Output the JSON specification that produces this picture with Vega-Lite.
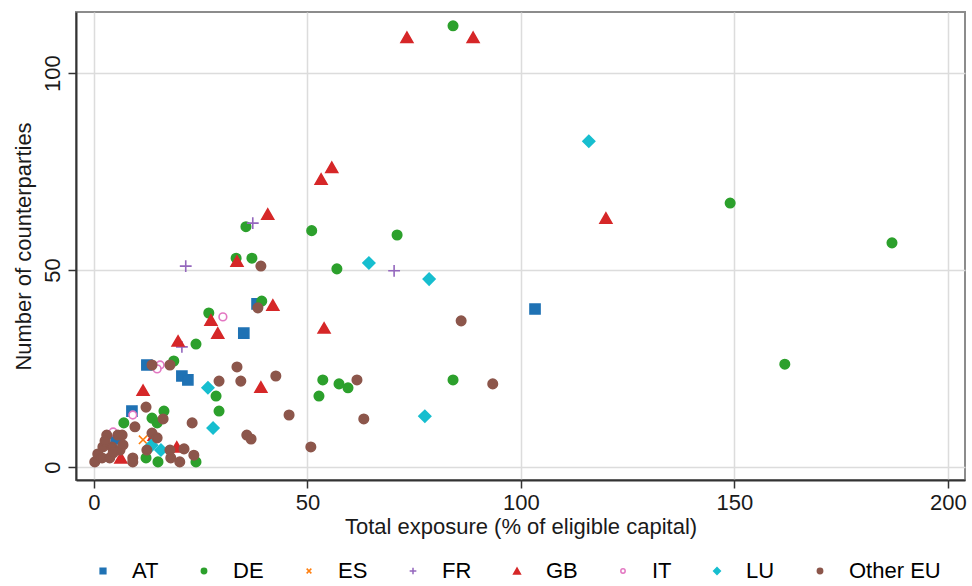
{
  "$schema": "https://vega.github.io/schema/vega-lite/v6.json",
  "autosize": "none",
  "padding": {"left": 76, "top": 12, "right": 7, "bottom": 106},
  "width": 889,
  "height": 468,
  "background": "white",
  "config": {
    "font": "Liberation Sans",
    "view": {"stroke": "#8c8c8c", "strokeWidth": 2},
    "axis": {"labelFont": "Liberation Sans", "titleFont": "Liberation Sans", "labelColor": "#1a1a1a", "titleColor": "#1a1a1a", "titleFontWeight": "normal", "gridColor": "#dcdcdc", "gridWidth": 1.5, "domainColor": "#333333", "domainWidth": 2, "tickColor": "#333333", "tickWidth": 1.5, "tickSize": 8}
  },
  "data": {"values": [
    {"country":"AT","exposure":103.3,"counterparties":40.1},
    {"country":"AT","exposure":35.1,"counterparties":34.0},
    {"country":"AT","exposure":38.2,"counterparties":41.4},
    {"country":"AT","exposure":12.4,"counterparties":25.9},
    {"country":"AT","exposure":20.6,"counterparties":23.1},
    {"country":"AT","exposure":22.0,"counterparties":22.1},
    {"country":"AT","exposure":8.9,"counterparties":14.2},
    {"country":"AT","exposure":5.2,"counterparties":7.1},
    {"country":"DE","exposure":84.1,"counterparties":112},
    {"country":"DE","exposure":51.0,"counterparties":60},
    {"country":"DE","exposure":71.0,"counterparties":58.9},
    {"country":"DE","exposure":149,"counterparties":67},
    {"country":"DE","exposure":186.9,"counterparties":56.9},
    {"country":"DE","exposure":161.8,"counterparties":26.1},
    {"country":"DE","exposure":35.6,"counterparties":61},
    {"country":"DE","exposure":33.3,"counterparties":53},
    {"country":"DE","exposure":37.0,"counterparties":53},
    {"country":"DE","exposure":39.3,"counterparties":42.1},
    {"country":"DE","exposure":26.9,"counterparties":39.1},
    {"country":"DE","exposure":23.9,"counterparties":31.2},
    {"country":"DE","exposure":56.9,"counterparties":50.3},
    {"country":"DE","exposure":53.6,"counterparties":22.1},
    {"country":"DE","exposure":57.4,"counterparties":21.1},
    {"country":"DE","exposure":59.5,"counterparties":20.1},
    {"country":"DE","exposure":52.7,"counterparties":18},
    {"country":"DE","exposure":84.1,"counterparties":22.1},
    {"country":"DE","exposure":28.6,"counterparties":18},
    {"country":"DE","exposure":29.3,"counterparties":14.2},
    {"country":"DE","exposure":23.9,"counterparties":1.3},
    {"country":"DE","exposure":16.4,"counterparties":14.2},
    {"country":"DE","exposure":7.0,"counterparties":11.2},
    {"country":"DE","exposure":13.6,"counterparties":12.4},
    {"country":"DE","exposure":14.8,"counterparties":11.2},
    {"country":"DE","exposure":12.2,"counterparties":2.3},
    {"country":"DE","exposure":15.0,"counterparties":1.3},
    {"country":"DE","exposure":18.7,"counterparties":26.9},
    {"country":"ES","exposure":11.5,"counterparties":6.9},
    {"country":"FR","exposure":37.2,"counterparties":61.9},
    {"country":"FR","exposure":21.5,"counterparties":51.0},
    {"country":"FR","exposure":70.3,"counterparties":49.8},
    {"country":"FR","exposure":20.6,"counterparties":30.5},
    {"country":"GB","exposure":73.3,"counterparties":109.1},
    {"country":"GB","exposure":88.8,"counterparties":109.1},
    {"country":"GB","exposure":55.7,"counterparties":76.1},
    {"country":"GB","exposure":53.2,"counterparties":73.1},
    {"country":"GB","exposure":119.9,"counterparties":63.2},
    {"country":"GB","exposure":40.7,"counterparties":64.2},
    {"country":"GB","exposure":33.5,"counterparties":52.3},
    {"country":"GB","exposure":41.9,"counterparties":41.1},
    {"country":"GB","exposure":27.4,"counterparties":37.3},
    {"country":"GB","exposure":29.0,"counterparties":34.0},
    {"country":"GB","exposure":53.9,"counterparties":35.3},
    {"country":"GB","exposure":19.7,"counterparties":32.0},
    {"country":"GB","exposure":11.5,"counterparties":19.5},
    {"country":"GB","exposure":39.1,"counterparties":20.3},
    {"country":"GB","exposure":19.4,"counterparties":5.1},
    {"country":"GB","exposure":6.3,"counterparties":2.3},
    {"country":"GB","exposure":14.1,"counterparties":8.1},
    {"country":"IT","exposure":30.2,"counterparties":38.1},
    {"country":"IT","exposure":15.5,"counterparties":25.9},
    {"country":"IT","exposure":14.8,"counterparties":24.9},
    {"country":"IT","exposure":9.1,"counterparties":13.2},
    {"country":"IT","exposure":4.5,"counterparties":8.9},
    {"country":"LU","exposure":64.4,"counterparties":51.8},
    {"country":"LU","exposure":78.5,"counterparties":47.7},
    {"country":"LU","exposure":77.5,"counterparties":12.9},
    {"country":"LU","exposure":115.9,"counterparties":82.7},
    {"country":"LU","exposure":26.7,"counterparties":20.1},
    {"country":"LU","exposure":27.9,"counterparties":9.9},
    {"country":"LU","exposure":15.7,"counterparties":4.3},
    {"country":"LU","exposure":13.5,"counterparties":5.5},
    {"country":"Other EU","exposure":86.0,"counterparties":37.1},
    {"country":"Other EU","exposure":93.4,"counterparties":21.1},
    {"country":"Other EU","exposure":61.6,"counterparties":22.1},
    {"country":"Other EU","exposure":63.2,"counterparties":12.2},
    {"country":"Other EU","exposure":50.8,"counterparties":5.1},
    {"country":"Other EU","exposure":39.1,"counterparties":51.0},
    {"country":"Other EU","exposure":38.4,"counterparties":40.4},
    {"country":"Other EU","exposure":33.5,"counterparties":25.4},
    {"country":"Other EU","exposure":29.3,"counterparties":21.8},
    {"country":"Other EU","exposure":34.4,"counterparties":21.8},
    {"country":"Other EU","exposure":42.6,"counterparties":23.1},
    {"country":"Other EU","exposure":45.7,"counterparties":13.2},
    {"country":"Other EU","exposure":23.0,"counterparties":11.2},
    {"country":"Other EU","exposure":35.8,"counterparties":8.1},
    {"country":"Other EU","exposure":36.8,"counterparties":7.1},
    {"country":"Other EU","exposure":21.1,"counterparties":4.6},
    {"country":"Other EU","exposure":23.4,"counterparties":3.0},
    {"country":"Other EU","exposure":17.8,"counterparties":25.9},
    {"country":"Other EU","exposure":13.6,"counterparties":25.9},
    {"country":"Other EU","exposure":12.2,"counterparties":15.2},
    {"country":"Other EU","exposure":9.6,"counterparties":10.2},
    {"country":"Other EU","exposure":16.2,"counterparties":12.2},
    {"country":"Other EU","exposure":13.6,"counterparties":8.6},
    {"country":"Other EU","exposure":12.4,"counterparties":4.3},
    {"country":"Other EU","exposure":17.8,"counterparties":4.3},
    {"country":"Other EU","exposure":20.1,"counterparties":1.3},
    {"country":"Other EU","exposure":18.0,"counterparties":2.3},
    {"country":"Other EU","exposure":9.1,"counterparties":2.3},
    {"country":"Other EU","exposure":9.1,"counterparties":1.3},
    {"country":"Other EU","exposure":0.2,"counterparties":1.3},
    {"country":"Other EU","exposure":0.9,"counterparties":3.3},
    {"country":"Other EU","exposure":3.0,"counterparties":8.1},
    {"country":"Other EU","exposure":5.6,"counterparties":8.1},
    {"country":"Other EU","exposure":2.1,"counterparties":5.1},
    {"country":"Other EU","exposure":4.2,"counterparties":5.1},
    {"country":"Other EU","exposure":6.1,"counterparties":4.3},
    {"country":"Other EU","exposure":1.9,"counterparties":2.3},
    {"country":"Other EU","exposure":3.7,"counterparties":2.3},
    {"country":"Other EU","exposure":4.5,"counterparties":3.6},
    {"country":"Other EU","exposure":6.6,"counterparties":8.1},
    {"country":"Other EU","exposure":6.8,"counterparties":5.6},
    {"country":"Other EU","exposure":2.6,"counterparties":6.6},
    {"country":"Other EU","exposure":14.8,"counterparties":7.4}
  ]},
  "mark": {"type": "point", "filled": true, "size": 140, "strokeWidth": 1.6, "opacity": 1},
  "encoding": {
    "x": {"field": "exposure", "type": "quantitative",
      "scale": {"domain": [-4.2, 204], "nice": false, "zero": false},
      "axis": {"title": "Total exposure (% of eligible capital)", "values": [0, 50, 100, 150, 200], "labelFontSize": 22, "titleFontSize": 22, "labelPadding": 4, "titlePadding": 3}},
    "y": {"field": "counterparties", "type": "quantitative",
      "scale": {"domain": [-3.3, 115.5], "nice": false, "zero": false},
      "axis": {"title": "Number of counterparties", "values": [0, 50, 100], "labelFontSize": 22, "titleFontSize": 22, "labelAngle": -90, "labelAlign": "center", "labelBaseline": "bottom", "labelPadding": 4, "titlePadding": 6}},
    "fill": {"field": "country", "type": "nominal",
      "scale": {"domain": ["AT","DE","ES","FR","GB","IT","LU","Other EU"],
        "range": ["#1f72b4","#2ca02c","transparent","transparent","#d62728","white","#17becf","#8c564b"]},
      "legend": {"title": null, "orient": "none", "legendX": 16, "legendY": 548, "direction": "horizontal", "labelFontSize": 22, "labelFont": "Liberation Sans", "symbolSize": 45, "columnPadding": 34, "labelOffset": 18, "symbolStrokeWidth": 1.5}},
    "stroke": {"field": "country", "type": "nominal",
      "scale": {"domain": ["AT","DE","ES","FR","GB","IT","LU","Other EU"],
        "range": ["#1f72b4","#2ca02c","#ff7f0e","#9467bd","#d62728","#e377c2","#17becf","#8c564b"]},
      "legend": {"title": null, "orient": "none", "legendX": 16, "legendY": 548, "direction": "horizontal", "labelFontSize": 22, "labelFont": "Liberation Sans", "symbolSize": 45, "columnPadding": 34, "labelOffset": 18, "symbolStrokeWidth": 1.5}},
    "shape": {"field": "country", "type": "nominal",
      "scale": {"domain": ["AT","DE","ES","FR","GB","IT","LU","Other EU"],
        "range": ["M-0.85,-0.85H0.85V0.85H-0.85Z","M-0.8,0A0.8,0.8,0,1,1,0.8,0A0.8,0.8,0,1,1,-0.8,0Z","M-0.7,-0.7L0.7,0.7M-0.7,0.7L0.7,-0.7","M-1,0L1,0M0,-1L0,1","triangle-up","M-0.65,0A0.65,0.65,0,1,1,0.65,0A0.65,0.65,0,1,1,-0.65,0Z","diamond","M-0.8,0A0.8,0.8,0,1,1,0.8,0A0.8,0.8,0,1,1,-0.8,0Z"]},
      "legend": {"title": null, "orient": "none", "legendX": 16, "legendY": 548, "direction": "horizontal", "labelFontSize": 22, "labelFont": "Liberation Sans", "symbolSize": 45, "columnPadding": 34, "labelOffset": 18, "symbolStrokeWidth": 1.5}}
  }
}
